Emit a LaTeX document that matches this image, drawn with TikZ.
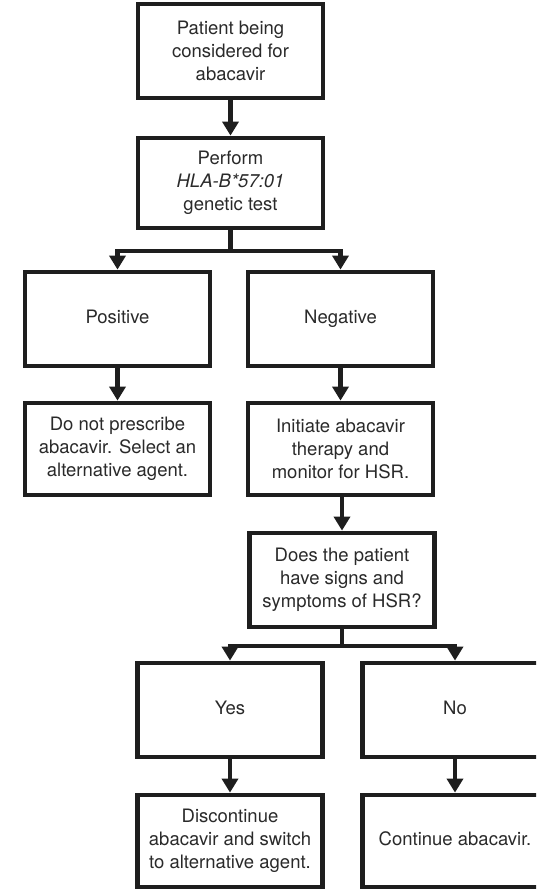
\documentclass[tikz,border=0pt]{standalone}
\usepackage{fontspec}
\setmainfont{TeX Gyre Heros}
\usetikzlibrary{arrows.meta}
\definecolor{ink}{HTML}{1E1E1E}
\definecolor{txt}{HTML}{2A2A2A}
\begin{document}
\begin{tikzpicture}[x=1pt,y=-1pt,
  box/.style={draw=ink, line width=4.8pt, rectangle, minimum width=185pt,
    minimum height=#1, align=center, text=txt, inner sep=2pt,
    font=\fontsize{18.5}{23}\selectfont},
  box/.default=93pt,
  oneline/.style={text height=13.5pt, text depth=4pt},
  link/.style={draw=ink, line width=4.2pt},
  arr/.style={link, -{Triangle[width=16pt,length=14pt]}}]
\useasboundingbox (0,0) rectangle (536,889);
\clip (0,0) rectangle (536,889);
\fill[white] (0,0) rectangle (536,889);

% start and test
\node[box=94pt] (start) at (230.5,51) {Patient being\\considered for\\abacavir};
\node[box=90pt] (test) at (230.5,183) {Perform\\\textit{HLA-B*57:01}\\genetic test};

% test outcomes
\node[box=94pt, oneline] (pos) at (117.5,319) {Positive};
\node[box=94pt, oneline] (neg) at (340.5,319) {Negative};
\node[box=92pt] (avoid) at (117.5,449) {Do not prescribe\\abacavir. Select an\\alternative agent.};
\node[box=92pt] (init) at (340.5,449) {Initiate abacavir\\therapy and\\monitor for HSR.};

% follow-up
\node[box=94pt] (check) at (342,580) {Does the patient\\have signs and\\symptoms of HSR?};
\node[box=94pt, oneline] (yes) at (230,710) {Yes};
\node[box=94pt, oneline] (no) at (455,710) {No};
\node[box=92pt] (stop) at (230,841) {Discontinue\\abacavir and switch\\to alternative agent.};
\node[box=92pt, oneline] (cont) at (455,841) {Continue abacavir.};

% connectors
\coordinate (j1) at (230.5,251);
\coordinate (j2) at (342,646);
\draw[arr] (start) -- (test);
\draw[link] (test) -- (j1);
\draw[arr] (j1) -| (pos);
\draw[arr] (j1) -| (neg);
\draw[arr] (pos) -- (avoid);
\draw[arr] (neg) -- (init);
\draw[arr] (init.south -| check.north) -- (check);
\draw[link] (check) -- (j2);
\draw[arr] (j2) -| (yes);
\draw[arr] (j2) -| (no);
\draw[arr] (yes) -- (stop);
\draw[arr] (no) -- (cont);
\end{tikzpicture}
\end{document}
